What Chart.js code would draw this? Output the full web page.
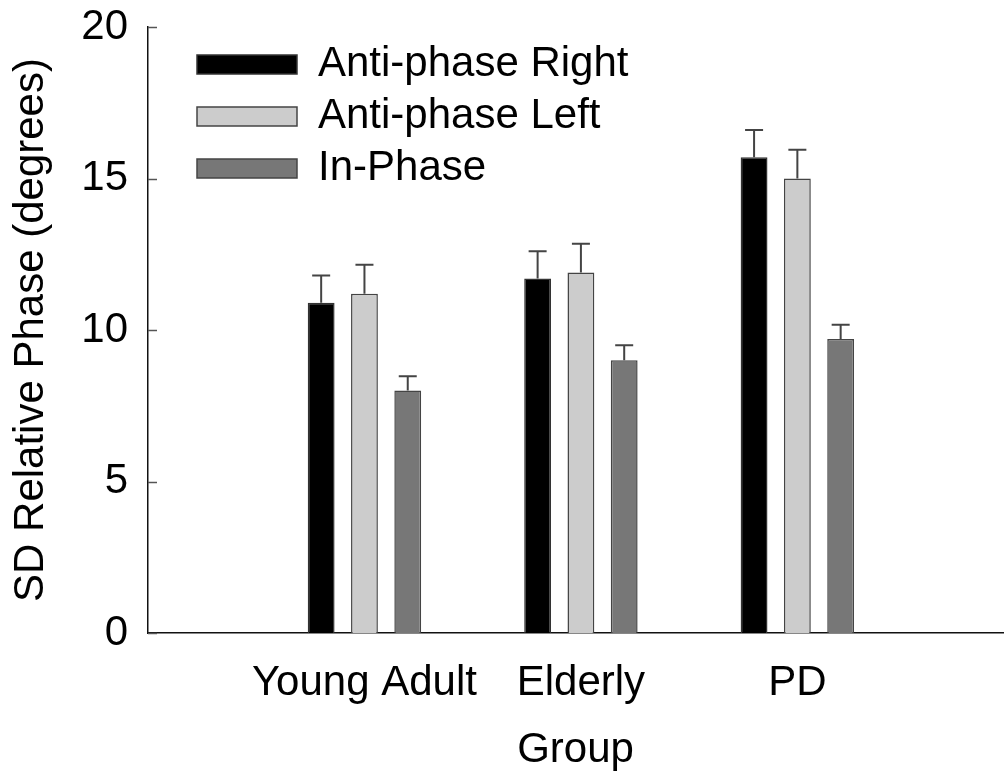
<!DOCTYPE html>
<html>
<head>
<meta charset="utf-8">
<script src="https://cdn.jsdelivr.net/npm/chart.js@4"></script>
<style>
    body { margin: 0; background: #fff; }
    #wrap { width: 1006px; height: 777px; }
</style>
</head>
<body>
<div id="wrap"><canvas id="phaseChart"></canvas></div>
<script>
// Chart data
const groups = ['Young Adult', 'Elderly', 'PD'];
const seriesNames = ['Anti-phase Right', 'Anti-phase Left', 'In-Phase'];
const antiRight = [10.9, 11.7, 15.7];
const antiLeft = [11.2, 11.9, 15.0];
const inPhase = [8.0, 9.0, 9.7];
const antiRightErr = [0.9, 0.9, 0.9];
const antiLeftErr = [0.95, 0.95, 0.95];
const inPhaseErr = [0.47, 0.5, 0.47];
const yTicks = [0, 5, 10, 15, 20];

const fontFamily = '"Liberation Sans", Arial, sans-serif';

// Build points on a linear x axis (groups sit at 1, 2, 3)
function toPoints(values) {
    return values.map((v, i) => ({ x: i + 1, y: v }));
}

// Error bars drawn above each bar
const errorBars = {
    id: 'errorBars',
    afterDatasetsDraw(chart) {
        const ctx = chart.ctx;
        const yScale = chart.scales.y;
        chart.data.datasets.forEach((ds, i) => {
            const meta = chart.getDatasetMeta(i);
            meta.data.forEach((bar, j) => {
                const top = yScale.getPixelForValue(ds.data[j].y + ds.errors[j]);
                ctx.save();
                ctx.strokeStyle = '#444';
                ctx.lineWidth = 2;
                ctx.beginPath();
                ctx.moveTo(bar.x, bar.y);
                ctx.lineTo(bar.x, top);
                ctx.moveTo(bar.x - 9, top);
                ctx.lineTo(bar.x + 9, top);
                ctx.stroke();
                ctx.restore();
            });
        });
    }
};

// Tick marks pointing into the plot on the y axis
const innerTicks = {
    id: 'innerTicks',
    afterDraw(chart) {
        const ctx = chart.ctx;
        const yScale = chart.scales.y;
        const left = chart.chartArea.left;
        ctx.save();
        ctx.strokeStyle = '#555';
        ctx.lineWidth = 1.5;
        yTicks.forEach(v => {
            const py = Math.round(yScale.getPixelForValue(v)) + 0.5;
            ctx.beginPath();
            ctx.moveTo(left, py);
            ctx.lineTo(left + 9, py);
            ctx.stroke();
        });
        ctx.restore();
    }
};

// Put the legend inside the plot, near the top left corner
const legendShift = {
    id: 'legendShift',
    afterLayout(chart) {
        chart.legend.left = chart.chartArea.left + 39;
        chart.legend.top = chart.chartArea.top + 6.5;
    }
};

const ctx = document.getElementById('phaseChart').getContext('2d');
const phaseChart = new Chart(ctx, {
    type: 'bar',
    plugins: [errorBars, innerTicks, legendShift],
    data: {
        datasets: [
            {
                label: seriesNames[0],
                data: toPoints(antiRight),
                errors: antiRightErr,
                backgroundColor: '#000000',
                borderColor: '#333333',
                borderWidth: 1.5,
            },
            {
                label: seriesNames[1],
                data: toPoints(antiLeft),
                errors: antiLeftErr,
                backgroundColor: '#cccccc',
                borderColor: '#444444',
                borderWidth: 1.5,
            },
            {
                label: seriesNames[2],
                data: toPoints(inPhase),
                errors: inPhaseErr,
                backgroundColor: '#777777',
                borderColor: '#444444',
                borderWidth: 1.5,
            },
        ],
    },
    options: {
        responsive: true,
        maintainAspectRatio: false,
        animation: false,
        categoryPercentage: 0.6,
        barPercentage: 0.62,
        layout: {
            padding: { left: 0, top: 27, right: 3, bottom: 0 },
        },
        plugins: {
            tooltip: { enabled: false },
            legend: {
                position: 'chartArea',
                align: 'start',
                labels: {
                    boxWidth: 100,
                    boxHeight: 19,
                    padding: 10,
                    color: '#000',
                    font: { family: fontFamily, size: 42 },
                },
            },
        },
        scales: {
            x: {
                type: 'linear',
                min: 0,
                max: 3.95,
                offset: false,
                grid: { display: false, drawTicks: false },
                border: { display: true, color: '#111', width: 1.5 },
                afterBuildTicks: (scale) => {
                    scale.ticks = groups.map((g, i) => ({ value: i + 1 }));
                },
                ticks: {
                    autoSkip: false,
                    maxRotation: 0,
                    minRotation: 0,
                    padding: 25,
                    color: '#000',
                    font: { family: fontFamily, size: 42 },
                    callback: (value) => groups[value - 1] || '',
                },
                title: {
                    display: true,
                    text: 'Group',
                    color: '#000',
                    font: { family: fontFamily, size: 42 },
                    padding: { top: 4, bottom: 1 },
                },
                afterFit: (scale) => { scale.height = 144; },
            },
            y: {
                min: 0,
                max: 20,
                grid: { display: false, drawTicks: false },
                border: { display: true, color: '#111', width: 1.5 },
                afterBuildTicks: (scale) => {
                    scale.ticks = yTicks.map(v => ({ value: v }));
                },
                ticks: {
                    padding: 20,
                    color: '#000',
                    font: { family: fontFamily, size: 42 },
                },
                title: {
                    display: true,
                    text: 'SD Relative Phase (degrees)',
                    color: '#000',
                    font: { family: fontFamily, size: 42 },
                    padding: { top: 6, bottom: 4 },
                },
                afterFit: (scale) => {
                    scale.width = 148;
                    scale.paddingTop = 0;
                    scale.paddingBottom = 0;
                },
            },
        },
    },
});
</script>
</body>
</html>
